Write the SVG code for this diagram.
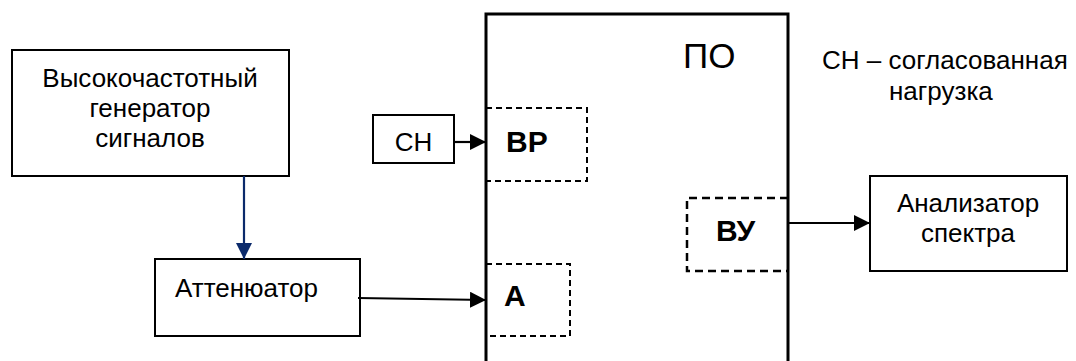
<svg xmlns="http://www.w3.org/2000/svg" width="1076" height="361" viewBox="0 0 1076 361">
<style>
.box{fill:#fff;stroke:#000;stroke-width:2}
.t{font-family:"Liberation Sans",Arial,sans-serif;font-size:26px;fill:#000}
.b{font-weight:bold;font-size:30px}
.dash{fill:none;stroke:#000;stroke-width:2;stroke-dasharray:6 4}
.dash2{fill:none;stroke:#000;stroke-width:2.5;stroke-dasharray:8 5}
.ln{fill:none;stroke:#000;stroke-width:2.2}
</style>
<defs>
<marker id="ah" markerUnits="userSpaceOnUse" markerWidth="16" markerHeight="16" refX="16" refY="8" orient="auto">
<path d="M0,0 L16,8 L0,16 z" fill="#000"/>
</marker>
<marker id="ahb" markerUnits="userSpaceOnUse" markerWidth="16" markerHeight="16" refX="16" refY="8" orient="auto">
<path d="M0,0 L16,8 L0,16 z" fill="#0b2a6b"/>
</marker>
</defs>
<rect width="1076" height="361" fill="#fff"/>

<g id="po">
<path d="M486,372 V14 H788 V372" fill="none" stroke="#000" stroke-width="3"/>
<text class="t" x="683" y="68" style="font-size:35px">ПО</text>
</g>

<g id="generator">
<rect class="box" x="12" y="50" width="277" height="126"/>
<text class="t" text-anchor="middle" x="150" y="87">Высокочастотный</text>
<text class="t" text-anchor="middle" x="150" y="117">генератор</text>
<text class="t" text-anchor="middle" x="150" y="147">сигналов</text>
</g>

<g id="attenuator">
<rect class="box" x="155" y="259" width="205" height="77"/>
<text class="t" x="175" y="297">Аттенюатор</text>
</g>

<g id="ch">
<rect class="box" x="373" y="115" width="81" height="48"/>
<text class="t" text-anchor="middle" x="413.5" y="151">СН</text>
</g>

<g id="bp">
<path class="dash" d="M486,108 H587 V181 H486"/>
<text class="t b" x="506" y="152">ВР</text>
</g>

<g id="a">
<path class="dash" d="M486,264 H570 V336 H486"/>
<text class="t b" x="504" y="306">А</text>
</g>

<g id="vu">
<path class="dash2" d="M788,198 H687 V271 H788"/>
<text class="t b" x="716" y="241">ВУ</text>
</g>

<g id="analyzer">
<rect class="box" x="870" y="176" width="197" height="95"/>
<text class="t" text-anchor="middle" x="968" y="212">Анализатор</text>
<text class="t" text-anchor="middle" x="968" y="242">спектра</text>
</g>

<g id="legend">
<text class="t" x="822" y="69">СН – согласованная</text>
<text class="t" x="889" y="100">нагрузка</text>
</g>

<g id="connectors">
<line x1="244" y1="176" x2="244" y2="259" stroke="#0b2a6b" stroke-width="2.2" marker-end="url(#ahb)"/>
<line class="ln" x1="358" y1="298" x2="486" y2="300" marker-end="url(#ah)"/>
<line class="ln" x1="454" y1="142" x2="486" y2="142" marker-end="url(#ah)"/>
<line class="ln" x1="788" y1="223" x2="870" y2="223" marker-end="url(#ah)"/>
</g>
</svg>
